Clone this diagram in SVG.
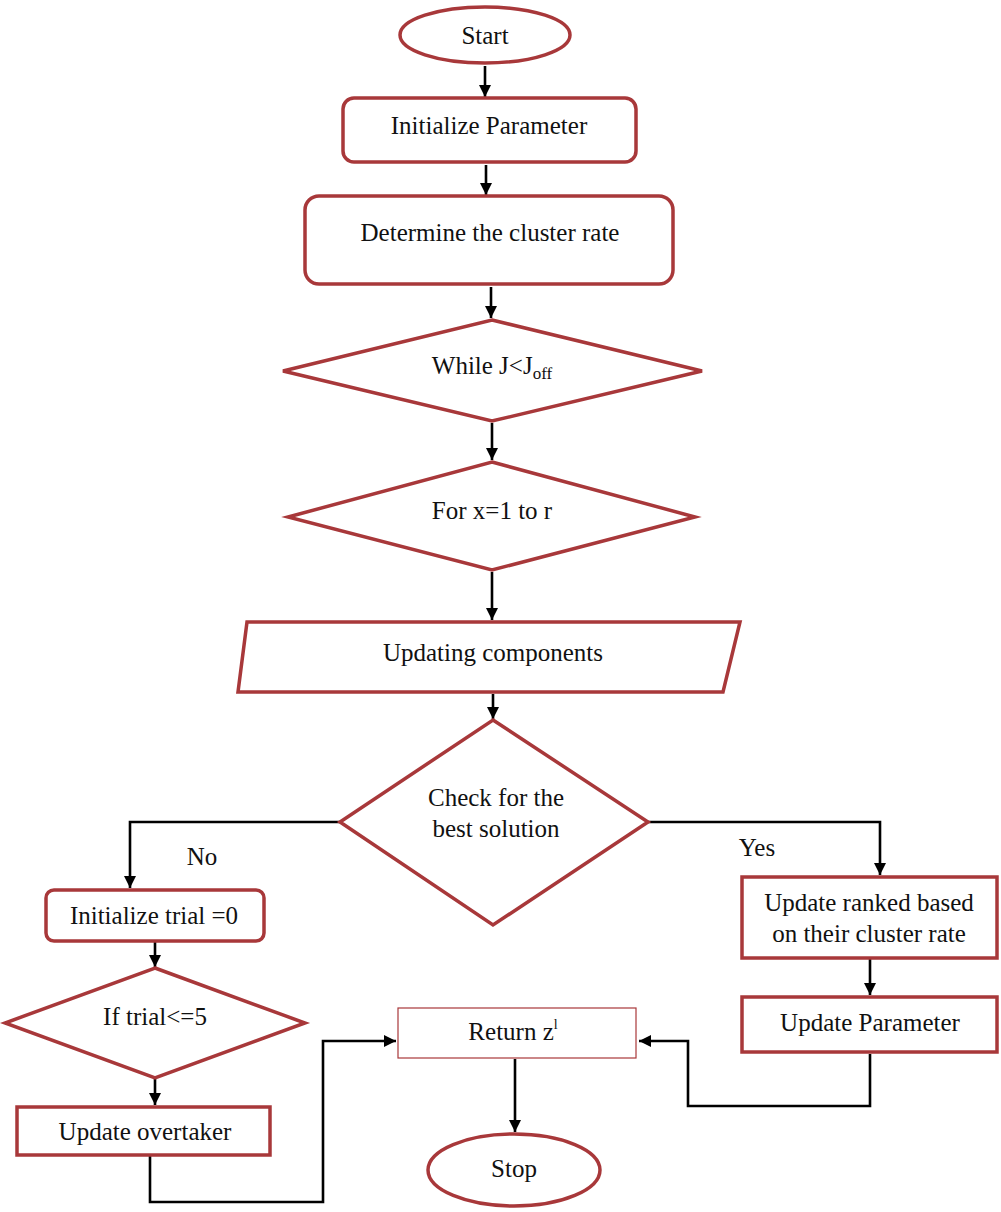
<svg xmlns="http://www.w3.org/2000/svg" width="1001" height="1212" viewBox="0 0 1001 1212">
<style>
.n{fill:#fff;stroke:#A8383A;stroke-width:3.5}
.thin{fill:#fff;stroke:#A8383A;stroke-width:1.2}
.c{fill:none;stroke:#000;stroke-width:2.6}
text{font-family:"Liberation Serif","Times New Roman",serif;font-size:25px;fill:#111;text-anchor:middle}
</style>
<defs>
<marker id="ah" markerUnits="userSpaceOnUse" markerWidth="12" markerHeight="12" viewBox="0 0 12 12" refX="12" refY="6" orient="auto">
<path d="M0,0 L12,6 L0,12 z" fill="#000"/>
</marker>
</defs>
<rect width="1001" height="1212" fill="#fff"/>
<g id="connectors">
<path class="c" d="M485,66 V97" marker-end="url(#ah)"/>
<path class="c" d="M486,165 V195" marker-end="url(#ah)"/>
<path class="c" d="M491,287 V318" marker-end="url(#ah)"/>
<path class="c" d="M492,423 V460" marker-end="url(#ah)"/>
<path class="c" d="M492,572 V620" marker-end="url(#ah)"/>
<path class="c" d="M493,694 V719" marker-end="url(#ah)"/>
<path class="c" d="M341,822 H130 V888" marker-end="url(#ah)"/>
<path class="c" d="M648,822 H880 V875" marker-end="url(#ah)"/>
<path class="c" d="M155,942 V967" marker-end="url(#ah)"/>
<path class="c" d="M155,1079 V1105" marker-end="url(#ah)"/>
<path class="c" d="M870,959 V995" marker-end="url(#ah)"/>
<path class="c" d="M150,1156 V1202 H323 V1041 H396" marker-end="url(#ah)"/>
<path class="c" d="M870,1054 V1106 H688 V1041 H639" marker-end="url(#ah)"/>
<path class="c" d="M515,1059 V1132" marker-end="url(#ah)"/>
</g>
<g id="start"><ellipse class="n" cx="485" cy="35" rx="85" ry="28"/><text x="485" y="44">Start</text></g>
<g id="init-param"><rect class="n" x="343" y="98" width="293" height="64" rx="11"/><text x="489" y="134">Initialize Parameter</text></g>
<g id="determine"><rect class="n" x="305" y="196" width="368" height="88" rx="14"/><text x="490" y="241">Determine the cluster rate</text></g>
<g id="while"><polygon class="n" points="492,320 702,371 492,421 283,371"/><text x="492" y="374">While J&lt;J<tspan font-size="17" dy="5">off</tspan></text></g>
<g id="for"><polygon class="n" points="492,462 695,517 492,570 288,517"/><text x="492" y="519">For x=1 to r</text></g>
<g id="updating"><polygon class="n" points="247,622 740,622 723,692 238,692"/><text x="493" y="661">Updating components</text></g>
<g id="check"><polygon class="n" points="493,720 648,822 493,925 340,822"/><text x="496" y="806">Check for the</text><text x="496" y="837">best solution</text></g>
<g id="lbl-no"><text x="202" y="865">No</text></g>
<g id="lbl-yes"><text x="757" y="856">Yes</text></g>
<g id="init-trial"><rect class="n" x="46" y="890" width="218" height="51" rx="8"/><text x="154" y="924">Initialize trial =0</text></g>
<g id="if-trial"><polygon class="n" points="155,968 305,1023 155,1078 5,1023"/><text x="155" y="1025">If trial&lt;=5</text></g>
<g id="overtaker"><rect class="n" x="17" y="1107" width="253" height="48"/><text x="145" y="1140">Update overtaker</text></g>
<g id="update-ranked"><rect class="n" x="742" y="877" width="255" height="81"/><text x="869" y="911">Update ranked based</text><text x="869" y="942">on their cluster rate</text></g>
<g id="update-param"><rect class="n" x="742" y="997" width="255" height="55"/><text x="870" y="1031">Update Parameter</text></g>
<g id="return"><rect class="thin" x="398" y="1008" width="238" height="50"/><text x="513" y="1040">Return z<tspan font-size="14" dy="-11">l</tspan></text></g>
<g id="stop"><ellipse class="n" cx="514" cy="1170" rx="86" ry="36"/><text x="514" y="1177">Stop</text></g>
</svg>
